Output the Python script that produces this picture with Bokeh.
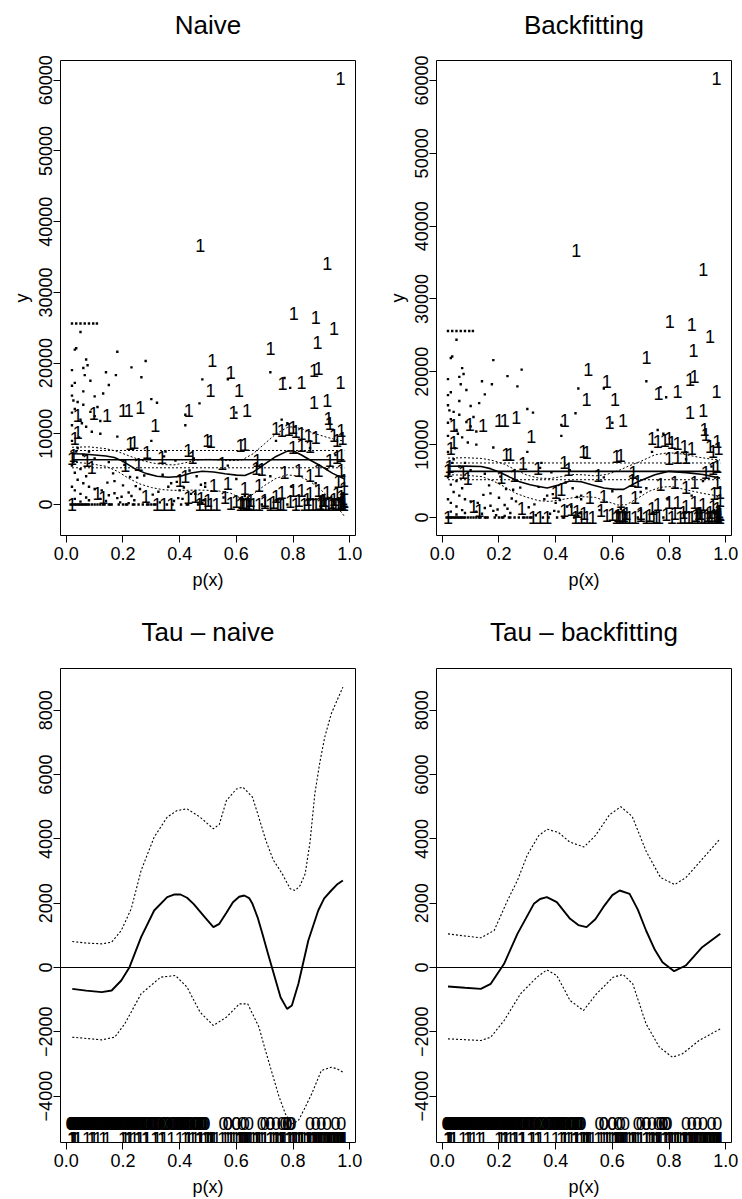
from bokeh.plotting import figure
from bokeh.layouts import column, row
from bokeh.models import Range1d, FixedTicker, CustomJSTickFormatter, Span, Title
from bokeh.embed import file_html
from bokeh.resources import INLINE
from bokeh.core.properties import value

FONT = "Liberation Sans"

# ---------------- data ----------------
# treated units: propensity score p(x) and outcome y
treat_p = [0.968, 0.473, 0.921, 0.803, 0.880, 0.945, 0.721, 0.886, 0.515, 0.580,
           0.874, 0.890, 0.968, 0.763, 0.830, 0.509, 0.609, 0.874, 0.921, 0.432,
           0.638, 0.590, 0.261, 0.200, 0.220, 0.144, 0.097, 0.040, 0.314, 0.925,
           0.930, 0.740, 0.760, 0.785, 0.800, 0.810, 0.830, 0.855, 0.880, 0.945,
           0.970, 0.975, 0.955, 0.226, 0.240, 0.497, 0.510, 0.615, 0.630, 0.285,
           0.338, 0.430, 0.445, 0.550, 0.674, 0.670, 0.208, 0.255, 0.040, 0.030,
           0.073, 0.090, 0.800, 0.830, 0.860, 0.930, 0.955, 0.970, 0.770, 0.690,
           0.820, 0.860, 0.890, 0.970, 0.400, 0.420, 0.960, 0.980, 0.520, 0.570,
           0.630, 0.680, 0.760, 0.800, 0.830, 0.860, 0.890, 0.920, 0.955, 0.980,
           0.970, 0.110, 0.130, 0.280, 0.430, 0.455, 0.475, 0.500, 0.320, 0.345,
           0.370, 0.470, 0.490, 0.510, 0.530, 0.600, 0.615, 0.625, 0.635, 0.645,
           0.660, 0.680, 0.700, 0.720, 0.745, 0.755, 0.765, 0.810, 0.840, 0.855,
           0.870, 0.880, 0.900, 0.915, 0.925, 0.940, 0.950, 0.965, 0.970, 0.975,
           0.980, 0.978, 0.972, 0.020, 0.020, 0.025, 0.620, 0.640, 0.650, 0.730,
           0.790, 0.820, 0.895, 0.905, 0.935, 0.945, 0.960, 0.976, 0.981, 0.560,
           0.580, 0.700, 0.740, 0.850, 0.910]
treat_y = [60300, 36600, 34100, 26970, 26500, 24850, 22020, 22960, 20370, 18720,
           18950, 19300, 17300, 17070, 17300, 16130, 16130, 14475, 14710, 13300,
           13300, 13060, 13770, 13300, 13300, 12590, 12820, 12590, 11170, 12120,
           11400, 10800, 10400, 10600, 10900, 10300, 10100, 9700, 9500, 9700,
           10400, 9400, 9000, 8580, 8700, 9050, 8900, 8350, 8500, 7400,
           6700, 7600, 6600, 5750, 6220, 5100, 5520, 5700, 10240, 9400,
           6220, 5300, 8110, 8300, 8200, 6220, 6700, 7000, 4570, 5000,
           4800, 4100, 4800, 4800, 3400, 3900, 3300, 3400, 2690, 2900,
           2200, 2700, 1750, 2000, 2000, 1500, 2000, 1750, 1500, 2300,
           1200, 1500, 1000, 1200, 1000, 1100, 800, 600, 0, 0,
           0, 0, 0, 0, 0, 400, 0, 0, 0, 0,
           0, 0, 500, 0, 0, 0, 0, 0, 0, 0,
           0, 0, 0, 0, 0, 0, 0, 0, 0, 0,
           0, 500, 300, 0, 6500, 7000, 300, 200, 600, 300,
           400, 600, 200, 500, 300, 700, 200, 800, 400, 1000,
           200, 300, 1200, 700, 500]

# control units
ctrl_p = [0.015, 0.020, 0.025, 0.030, 0.035, 0.040, 0.045, 0.050, 0.055, 0.060,
          0.065, 0.070, 0.075, 0.080, 0.090, 0.100, 0.110, 0.120, 0.130, 0.150,
          0.160, 0.190, 0.200, 0.220, 0.240, 0.270, 0.300, 0.020, 0.035, 0.050,
          0.065, 0.080, 0.095, 0.108, 0.050, 0.030, 0.035, 0.070, 0.075, 0.060,
          0.020, 0.065, 0.030, 0.085, 0.180, 0.230, 0.280, 0.140, 0.175, 0.265,
          0.020, 0.060, 0.100, 0.130, 0.150, 0.020, 0.025, 0.060, 0.085, 0.030,
          0.050, 0.020, 0.070, 0.090, 0.120, 0.180, 0.300, 0.320, 0.420, 0.420,
          0.480, 0.470, 0.570, 0.720, 0.770, 0.790, 0.600, 0.300, 0.350, 0.020,
          0.040, 0.060, 0.080, 0.100, 0.150, 0.020, 0.030, 0.050, 0.070, 0.040,
          0.060, 0.080, 0.020, 0.030, 0.050, 0.070, 0.100, 0.120, 0.170, 0.200,
          0.220, 0.240, 0.030, 0.050, 0.080, 0.150, 0.180, 0.260, 0.380, 0.400,
          0.025, 0.035, 0.045, 0.055, 0.020, 0.040, 0.100, 0.110, 0.120, 0.450,
          0.490, 0.555, 0.620, 0.630, 0.645, 0.700, 0.720, 0.740, 0.760, 0.780,
          0.795, 0.860, 0.880, 0.900, 0.920, 0.950, 0.970, 0.330, 0.360, 0.410,
          0.440, 0.460, 0.480, 0.490, 0.570, 0.600, 0.690, 0.780, 0.310, 0.325,
          0.340, 0.355, 0.370, 0.385, 0.395, 0.405, 0.415, 0.425, 0.435, 0.455,
          0.465, 0.475, 0.485, 0.210, 0.230, 0.250, 0.285, 0.170, 0.140, 0.125,
          0.135, 0.145, 0.155, 0.165, 0.185, 0.195, 0.205, 0.215, 0.225, 0.235,
          0.245, 0.255, 0.275, 0.290, 0.305, 0.315, 0.345, 0.375, 0.390, 0.430]
ctrl_y = [0, 0, 0, 0, 0, 0, 0, 0, 0, 0,
          0, 0, 0, 0, 0, 0, 0, 0, 0, 0,
          0, 300, 0, 200, 0, 0, 0, 25600, 25600, 25600,
          25600, 25600, 25600, 25600, 24400, 21900, 22100, 20500, 19700, 19300,
          19000, 18300, 17200, 17500, 21600, 19400, 20300, 18700, 18300, 18000,
          16800, 16000, 15300, 15700, 16900, 15400, 14700, 14100, 13100, 13500,
          12000, 11200, 11000, 10300, 10000, 9600, 14900, 14400, 12700, 11200,
          17700, 14300, 17700, 18700, 17900, 16500, 13000, 9000, 7500, 9000,
          8000, 7000, 7500, 6500, 6000, 5500, 4500, 5000, 4000, 3500,
          3000, 2500, 2500, 2000, 1500, 1000, 2200, 800, 3300, 2700,
          1700, 600, 800, 400, 600, 1300, 900, 2200, 500, 2000,
          6000, 7500, 9500, 11500, 13000, 14500, 12500, 13800, 11800, 6500,
          3000, 1000, 800, 1200, 500, 3500, 4000, 9000, 12000, 11500,
          2500, 8000, 3000, 1000, 5000, 7000, 500, 300, 2500, 800,
          1500, 4000, 200, 2500, 5500, 3600, 0, 0, 0, 1800,
          4200, 0, 3000, 6200, 900, 0, 2400, 0, 4800, 1500,
          0, 2800, 600, 0, 1200, 3800, 0, 1600, 500, 2000,
          0, 3100, 0, 4400, 0, 1100, 5600, 0, 3900, 0,
          2600, 0, 4100, 0, 1400, 0, 6800, 0, 3200, 0]

# Naive regression fits (top-left)
naive_mean = [7640, 6330, 5190]          # upper CI, mean, lower CI
naive_fit_p = [0.02, 0.06, 0.10, 0.14, 0.17, 0.20, 0.24, 0.28, 0.32, 0.36, 0.40, 0.44, 0.48,
               0.52, 0.56, 0.60, 0.63, 0.66, 0.70, 0.74, 0.78, 0.80, 0.83, 0.86, 0.90, 0.94, 0.98]
naive_fit_y = [7170, 7150, 7000, 6850, 6650, 6100, 5100, 4400, 4000, 3850, 3950, 4450, 4700,
               4600, 4350, 4150, 4100, 4600, 5700, 6800, 7550, 7600, 7000, 6300, 5400, 4400, 3650]
naive_up_p = [0.02, 0.08, 0.14, 0.18, 0.22, 0.26, 0.30, 0.34, 0.38, 0.42, 0.46, 0.50, 0.54,
              0.58, 0.62, 0.66, 0.70, 0.74, 0.78, 0.80, 0.84, 0.88, 0.92, 0.96, 0.98]
naive_up_y = [8100, 8150, 7900, 7500, 6900, 6300, 5900, 5650, 5600, 5900, 6300, 6400, 6300,
              6200, 6300, 7200, 8600, 10000, 10900, 11000, 10600, 10000, 9500, 9100, 9000]
naive_lo_p = [0.02, 0.08, 0.14, 0.18, 0.22, 0.26, 0.30, 0.34, 0.38, 0.42, 0.46, 0.50, 0.54,
              0.58, 0.61, 0.63, 0.66, 0.70, 0.74, 0.78, 0.82, 0.86, 0.90, 0.94, 0.98]
naive_lo_y = [6000, 5800, 5400, 4700, 3700, 2900, 2400, 2100, 2000, 2000, 2050, 2000, 1900,
              1600, 1000, 700, 1500, 2700, 3700, 4200, 4000, 3300, 2000, 500, -1600]

# Backfitting fits (top-right)
back_mean = [7480, 6330, 5180]
back_fit_p = [0.02, 0.08, 0.137, 0.17, 0.20, 0.24, 0.27, 0.31, 0.34, 0.37, 0.41, 0.45, 0.49,
              0.53, 0.57, 0.61, 0.64, 0.69, 0.75, 0.80, 0.86, 0.92, 0.98]
back_fit_y = [7020, 7050, 7000, 6700, 6250, 5500, 4950, 4500, 4250, 4050, 4450, 5000, 4900,
              4450, 4050, 3850, 3850, 4900, 5850, 6330, 6150, 5900, 5400]
back_up_p = [0.02, 0.08, 0.14, 0.18, 0.22, 0.26, 0.30, 0.34, 0.38, 0.42, 0.46, 0.50, 0.54,
             0.58, 0.62, 0.66, 0.70, 0.75, 0.80, 0.85, 0.90, 0.95, 0.98]
back_up_y = [8150, 8200, 8100, 7800, 7300, 6500, 5800, 5400, 5350, 5600, 5900, 5850, 5700,
             5900, 6400, 7100, 7700, 8600, 8900, 8700, 8300, 8000, 7900]
back_lo_p = [0.02, 0.08, 0.14, 0.18, 0.22, 0.26, 0.30, 0.34, 0.38, 0.42, 0.46, 0.50, 0.54,
             0.58, 0.62, 0.65, 0.69, 0.73, 0.77, 0.81, 0.86, 0.92, 0.98]
back_lo_y = [5870, 5800, 5600, 5000, 4200, 3300, 2750, 2300, 2200, 2450, 2700, 2850, 2750,
             2200, 1700, 1750, 2650, 3600, 4150, 4250, 3800, 3300, 2900]

# Tau - naive (bottom-left)
tau_n_p = [0.021, 0.07, 0.125, 0.16, 0.194, 0.223, 0.264, 0.31, 0.356, 0.38, 0.403, 0.426, 0.449,
           0.49, 0.519, 0.54, 0.565, 0.588, 0.61, 0.628, 0.645, 0.657, 0.675, 0.692, 0.71, 0.727,
           0.756, 0.779, 0.796, 0.819, 0.854, 0.889, 0.91, 0.935, 0.955, 0.976]
tau_n_y = [-664, -720, -767, -715, -404, 10, 944, 1773, 2188, 2270, 2271, 2170, 1980,
           1550, 1255, 1358, 1700, 2032, 2200, 2240, 2160, 1980, 1560, 1047, 480, -41,
           -923, -1286, -1182, -508, 840, 1773, 2150, 2395, 2580, 2707]
tau_n_up_p = [0.021, 0.07, 0.125, 0.16, 0.194, 0.229, 0.264, 0.31, 0.356, 0.39, 0.426, 0.472,
              0.519, 0.54, 0.565, 0.60, 0.623, 0.657, 0.68, 0.704, 0.73, 0.762, 0.79, 0.808,
              0.825, 0.843, 0.86, 0.877, 0.895, 0.912, 0.935, 0.955, 0.976]
tau_n_up_y = [809, 760, 736, 788, 1151, 1825, 3018, 4055, 4677, 4880, 4936, 4677,
              4314, 4450, 5195, 5550, 5610, 5299, 4650, 3951, 3350, 2914, 2450, 2395,
              2550, 2914, 3900, 5403, 6400, 7166, 7892, 8300, 8721]
tau_n_lo_p = [0.021, 0.125, 0.171, 0.206, 0.264, 0.333, 0.385, 0.426, 0.472, 0.519, 0.565,
              0.611, 0.64, 0.68, 0.70, 0.727, 0.75, 0.773, 0.796, 0.819, 0.84, 0.866, 0.90,
              0.935, 0.955, 0.976]
tau_n_lo_y = [-2167, -2250, -2167, -1753, -819, -301, -249, -612, -1390, -1804, -1545,
              -1130, -1130, -1856, -2500, -3308, -4000, -4552, -4864, -4760, -4400, -3930,
              -3204, -3100, -3150, -3256]

# Tau - backfitting (bottom-right)
tau_b_p = [0.02, 0.08, 0.136, 0.171, 0.218, 0.265, 0.323, 0.345, 0.369, 0.404, 0.451, 0.48,
           0.509, 0.54, 0.568, 0.60, 0.626, 0.661, 0.69, 0.719, 0.75, 0.777, 0.818, 0.859,
           0.917, 0.981]
tau_b_y = [-591, -630, -664, -508, 114, 1047, 1980, 2130, 2188, 2032, 1514, 1320,
           1255, 1500, 1877, 2250, 2395, 2292, 1800, 1151, 550, 166, -114, 62,
           633, 1047]
tau_b_up_p = [0.02, 0.08, 0.136, 0.183, 0.23, 0.265, 0.30, 0.34, 0.37, 0.41, 0.45, 0.50, 0.54,
              0.59, 0.63, 0.67, 0.72, 0.77, 0.82, 0.86, 0.92, 0.98]
tau_b_up_y = [1047, 980, 923, 1151, 2084, 2707, 3500, 4100, 4300, 4200, 3900, 3750, 4100,
              4750, 5000, 4700, 3600, 2800, 2580, 2800, 3400, 4000]
tau_b_lo_p = [0.02, 0.136, 0.171, 0.218, 0.276, 0.334, 0.369, 0.404, 0.451, 0.498, 0.544,
              0.603, 0.638, 0.672, 0.719, 0.766, 0.812, 0.847, 0.906, 0.981]
tau_b_lo_y = [-2219, -2271, -2167, -1649, -819, -301, -73, -249, -1027, -1338, -819,
              -301, -218, -508, -1753, -2478, -2790, -2686, -2271, -1908]

# rug label rows (y positions in data units of the tau panels)
rug_ctrl_y = -4850
rug_treat_y = -5330

x_ticks = [0.0, 0.2, 0.4, 0.6, 0.8, 1.0]
y_ticks_top = [0, 10000, 20000, 30000, 40000, 50000, 60000]
y_ticks_bot = [-4000, -2000, 0, 2000, 4000, 6000, 8000]

# ---------------- figures ----------------
XFMT = CustomJSTickFormatter(code="return tick.toFixed(1);")
YFMT = CustomJSTickFormatter(code="return tick < 0 ? '\u2212' + (-tick) : '' + tick;")


def make_fig(title, w, h, bl, br, bt, bb, yr, yticks, ylabel, gap, tstand):
    p = figure(width=w, height=h, x_range=Range1d(-0.0205, 1.0205), y_range=Range1d(*yr),
               output_backend="svg", toolbar_location=None,
               min_border_left=bl, min_border_right=br, min_border_top=bt, min_border_bottom=bb)
    # blank spacer between frame and title, then the main title
    p.add_layout(Title(text=" ", text_font_size="8px", standoff=gap), "above")
    p.add_layout(Title(text=title, align="center", text_font=FONT, text_font_size="26px",
                       text_font_style="normal", text_color="black", standoff=tstand), "above")
    p.grid.visible = False
    p.outline_line_color = "black"
    p.outline_line_alpha = 1
    p.background_fill_color = "white"
    p.border_fill_color = "white"
    xa = p.xaxis[0]
    ya = p.yaxis[0]
    xa.ticker = FixedTicker(ticks=x_ticks)
    xa.formatter = XFMT
    xa.bounds = (0, 1)
    xa.axis_label = "p(x)"
    ya.ticker = FixedTicker(ticks=yticks)
    ya.formatter = YFMT
    ya.bounds = (yticks[0], yticks[-1])
    ya.major_label_orientation = "vertical"
    if ylabel:
        ya.axis_label = ylabel
    for ax in (xa, ya):
        ax.axis_line_color = "black"
        ax.major_tick_line_color = "black"
        ax.major_tick_out = 7
        ax.major_tick_in = 0
        ax.minor_tick_line_color = None
        ax.major_label_text_font = FONT
        ax.major_label_text_font_size = "18px"
        ax.major_label_text_color = "black"
        ax.axis_label_text_font = FONT
        ax.axis_label_text_font_size = "18px"
        ax.axis_label_text_font_style = "normal"
        ax.axis_label_text_color = "black"
    xa.major_label_standoff = 4
    xa.axis_label_standoff = 7
    ya.major_label_standoff = 1
    ya.axis_label_standoff = 5
    return p


def scatter_panel(p, mean, fit_p, fit_y, up_p, up_y, lo_p, lo_y):
    pmin = min(treat_p + ctrl_p)
    pmax = max(treat_p + ctrl_p)
    p.scatter(ctrl_p, ctrl_y, marker="square", size=2.4, fill_color="black", line_color=None)
    p.text(treat_p, treat_y, text=["1"] * len(treat_p), text_align="center",
           text_baseline="middle", text_font=value(FONT), text_font_size="18px",
           text_color="black")
    p.line([pmin + 0.005, pmax], [mean[1], mean[1]], line_color="black", line_width=1.6)
    p.line([pmin + 0.005, pmax], [mean[0], mean[0]], line_color="black", line_width=1, line_dash="2 2")
    p.line([pmin + 0.005, pmax], [mean[2], mean[2]], line_color="black", line_width=1, line_dash="2 2")
    p.line(fit_p, fit_y, line_color="black", line_width=1.6)
    p.line(up_p, up_y, line_color="black", line_width=1, line_dash="2 2")
    p.line(lo_p, lo_y, line_color="black", line_width=1, line_dash="2 2")


def tau_panel(p, fp, fy, upp, upy, lop, loy):
    p.add_layout(Span(location=0, dimension="width", line_color="black", line_width=1))
    p.line(upp, upy, line_color="black", line_width=1.1, line_dash="2 2")
    p.line(lop, loy, line_color="black", line_width=1.1, line_dash="2 2")
    p.line(fp, fy, line_color="black", line_width=1.9)
    p.text(ctrl_p, [rug_ctrl_y] * len(ctrl_p), text=["0"] * len(ctrl_p), text_align="center",
           text_baseline="middle", text_font=value(FONT), text_font_size="18px", text_color="black")
    p.text(treat_p, [rug_treat_y] * len(treat_p), text=["1"] * len(treat_p), text_align="center",
           text_baseline="middle", text_font=value(FONT), text_font_size="18px", text_color="black")


p1 = make_fig("Naive", 371, 600, 60, 16, 60, 65, (-4385, 62800), y_ticks_top, "y", 3, 13)
scatter_panel(p1, naive_mean, naive_fit_p, naive_fit_y, naive_up_p, naive_up_y, naive_lo_p, naive_lo_y)

p2 = make_fig("Backfitting", 371, 600, 65, 11, 60, 65, (-2480, 62750), y_ticks_top, "y", 3, 13)
scatter_panel(p2, back_mean, back_fit_p, back_fit_y, back_up_p, back_up_y, back_lo_p, back_lo_y)

p3 = make_fig("Tau \u2013 naive", 371, 599, 60, 16, 68, 57, (-5443, 9300), y_ticks_bot, None, 4, 13)
tau_panel(p3, tau_n_p, tau_n_y, tau_n_up_p, tau_n_up_y, tau_n_lo_p, tau_n_lo_y)

p4 = make_fig("Tau \u2013 backfitting", 371, 599, 65, 11, 68, 57, (-5443, 9300), y_ticks_bot, None, 4, 13)
tau_panel(p4, tau_b_p, tau_b_y, tau_b_up_p, tau_b_up_y, tau_b_lo_p, tau_b_lo_y)

layout = column(row(p1, p2), row(p3, p4))
open("out.html", "w").write(file_html(layout, INLINE))
